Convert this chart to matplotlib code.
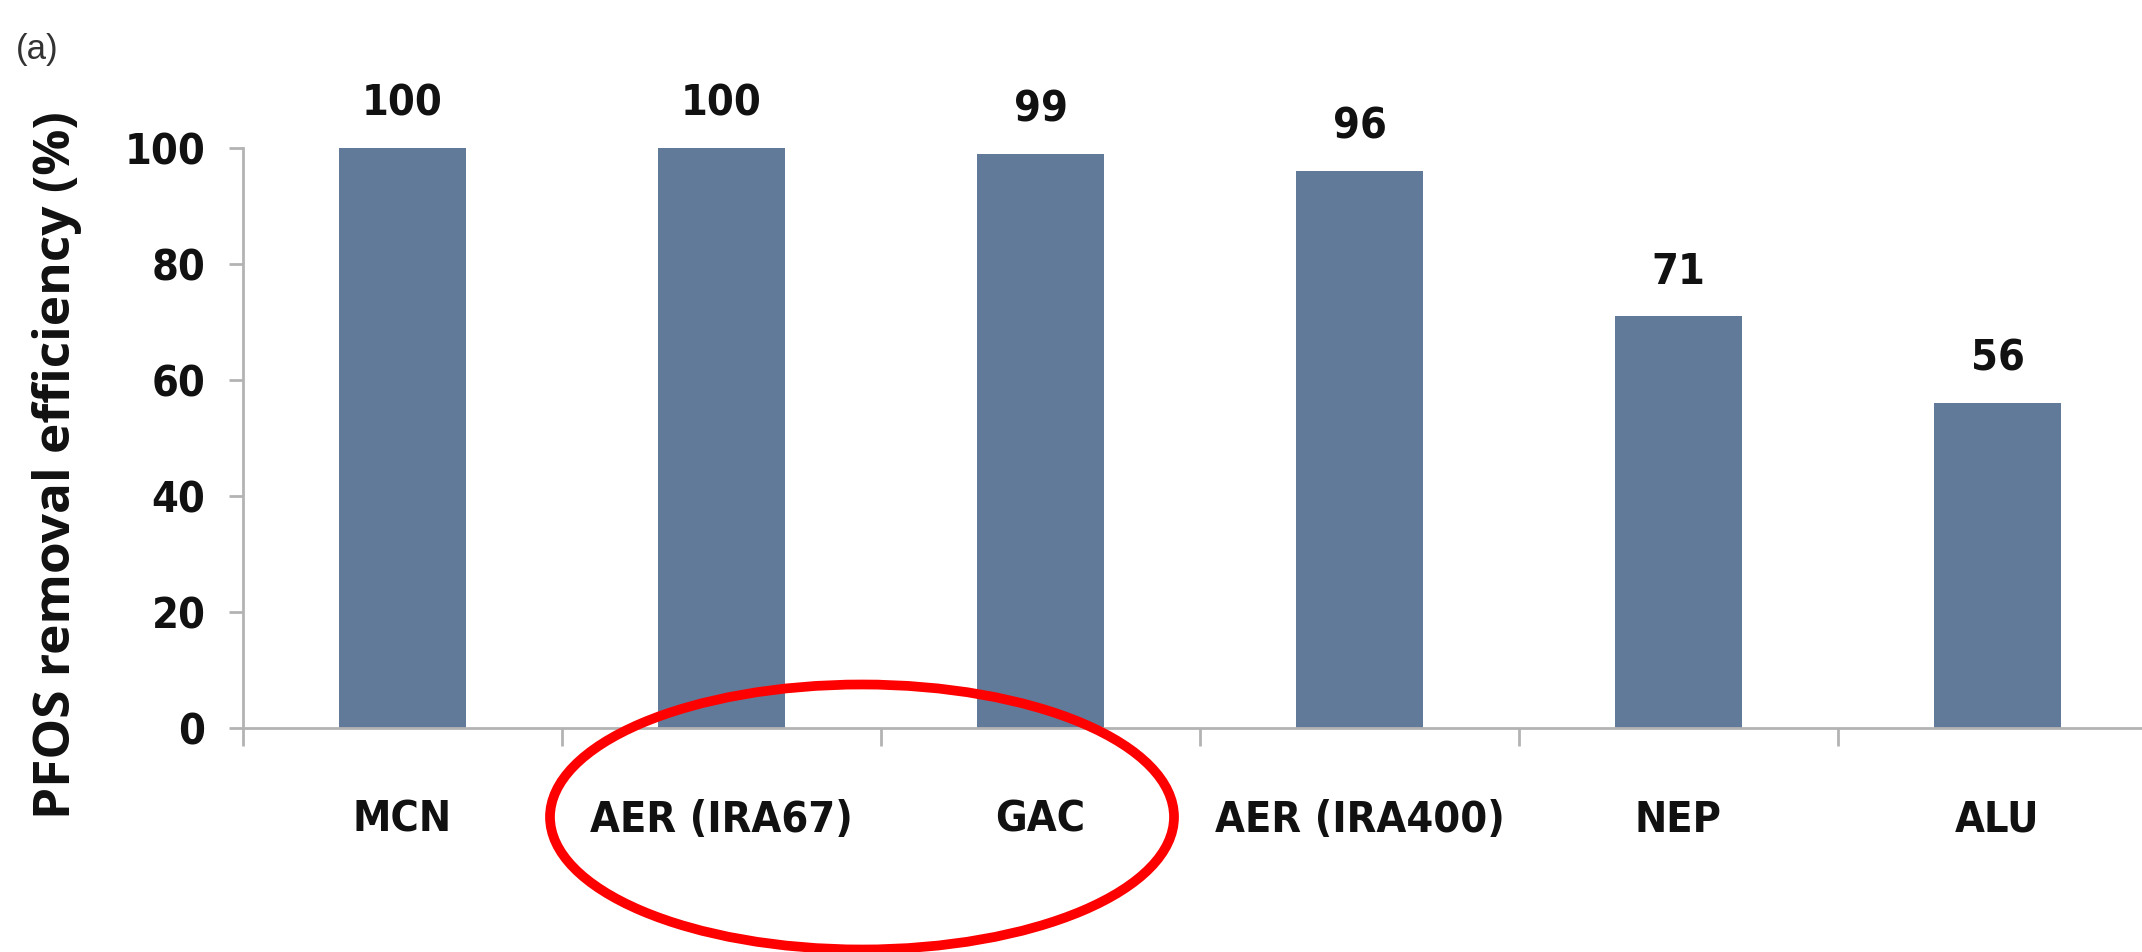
import matplotlib
matplotlib.use("Agg")
import matplotlib.pyplot as plt
from matplotlib.patches import Ellipse
import numpy as np

categories = ["MCN", "AER (IRA67)", "GAC", "AER (IRA400)", "NEP", "ALU"]
values = [100, 100, 99, 96, 71, 56]
yticks = [0, 20, 40, 60, 80, 100]

bar_color = "#627a99"
axis_color = "#b3b3b3"

W, H, DPI = 2142, 952, 100
fig = plt.figure(figsize=(W / DPI, H / DPI), dpi=DPI)
fig.patch.set_facecolor("white")

ax = fig.add_axes([243 / W, 1 - 728 / H, 1914 / W, (728 - 148) / H])
x = np.arange(len(categories))
ax.bar(x, values, width=0.40, color=bar_color, zorder=2)

ax.set_xlim(-0.5, len(categories) - 0.5)
ax.set_ylim(0, 100)

txt = dict(fontweight="bold", family="DejaVu Sans", fontstretch="condensed",
           color="#111111")

for xi, v in zip(x, values):
    ax.annotate(f"{v}", (xi, v), xytext=(0, 17), textcoords="offset points",
                ha="center", va="bottom", fontsize=31, **txt)

for s in ["top", "right"]:
    ax.spines[s].set_visible(False)
for s in ["left", "bottom"]:
    ax.spines[s].set_color(axis_color)
    ax.spines[s].set_linewidth(2)

ax.set_yticks(yticks)
ax.set_yticklabels([str(t) for t in yticks], fontsize=31, **txt)
ax.tick_params(axis="y", length=10, width=2, color=axis_color, pad=17)

ax.set_xticks(x)
ax.set_xticklabels(categories, fontsize=31, **txt)
ax.tick_params(axis="x", which="major", length=0, pad=51)
ax.set_xticks(np.arange(-0.5, len(categories), 1.0), minor=True)
ax.tick_params(axis="x", which="minor", length=13, width=2, color=axis_color)

fig.text(57 / W, 1 - 465 / H, "PFOS removal efficiency (%)", rotation=90,
         ha="center", va="center", fontsize=37, fontweight="bold",
         family=["Open Sans", "DejaVu Sans"], color="#111111")

fig.text(16 / W, 1 - 50 / H, "(a)", ha="left", va="center", fontsize=25,
         family=["Liberation Sans", "DejaVu Sans"], color="#333333")

ell = Ellipse((862 / W, 1 - 817 / H), 624 / W, 265 / H, transform=fig.transFigure,
              fill=False, edgecolor="#ff0000", linewidth=7, zorder=10)
fig.patches.append(ell)

fig.savefig("out.png", dpi=DPI, facecolor="white")
